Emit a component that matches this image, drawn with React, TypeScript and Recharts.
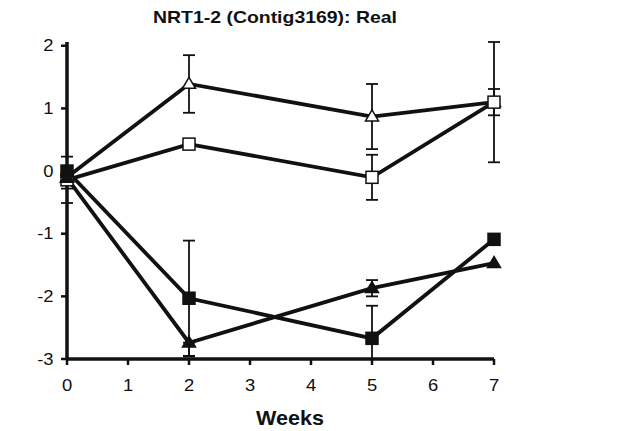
import { LineChart, Line, XAxis, YAxis, ErrorBar } from 'recharts'

const WEEKS = [0, 2, 5, 7]
const X_TICKS = [0, 1, 2, 3, 4, 5, 6, 7]
const Y_TICKS = [-3, -2, -1, 0, 1, 2]

// open triangles
const OPEN_TRI = [-0.1, 1.39, 0.87, 1.1]
const OPEN_TRI_ERR = [0, 0.46, 0.52, 0.21]
// open squares
const OPEN_SQ = [-0.14, 0.43, -0.1, 1.1]
const OPEN_SQ_ERR = [0.37, 0, 0.36, 0.96]
// filled squares
const FILL_SQ = [0, -2.03, -2.67, -1.09]
const FILL_SQ_ERR: (number | number[])[] = [0, 0.92, [0.33, 0.52], 0]
// filled triangles
const FILL_TRI = [-0.11, -2.74, -1.87, -1.47]
const FILL_TRI_ERR: (number | number[])[] = [0.17, [0.22, 0], 0.13, 0]

const data = WEEKS.map((w, i) => ({
  week: w,
  oTri: OPEN_TRI[i],
  oTriErr: OPEN_TRI_ERR[i],
  oSq: OPEN_SQ[i],
  oSqErr: OPEN_SQ_ERR[i],
  fSq: FILL_SQ[i],
  fSqErr: FILL_SQ_ERR[i],
  fTri: FILL_TRI[i],
  fTriErr: FILL_TRI_ERR[i],
}))

const FONT = '"Liberation Sans", Arial, Helvetica, sans-serif'
const INK = '#111'

function marker(shape: 'square' | 'triangle', filled: boolean) {
  return (props: any) => {
    const { cx, cy, index } = props
    if (cx == null || cy == null) return <g key={index} />
    const fill = filled ? INK : '#fff'
    if (shape === 'square') {
      return <rect key={index} x={cx - 6} y={cy - 6} width={12} height={12} fill={fill} stroke={INK} strokeWidth={1.5} />
    }
    const h = 11
    const pts = `${cx},${cy - h * 0.6} ${cx - 6.5},${cy + h * 0.4} ${cx + 6.5},${cy + h * 0.4}`
    return <polygon key={index} points={pts} fill={fill} stroke={INK} strokeWidth={1.5} />
  }
}

// tick text is a little wide in this style, so stretch it horizontally
function XTick(props: any) {
  const { x, y, payload } = props
  return (
    <text transform={`translate(${x},${y + 14.5}) scale(1.15,1)`} textAnchor="middle" fontSize={16} fontFamily={FONT} fill={INK}>
      {payload.value}
    </text>
  )
}

function YTick(props: any) {
  const { x, y, payload } = props
  return (
    <text transform={`translate(${x},${y + 5.5}) scale(1.15,1)`} textAnchor="end" fontSize={16} fontFamily={FONT} fill={INK}>
      {payload.value}
    </text>
  )
}

const line = { stroke: INK, strokeWidth: 3.5 }

export default function App() {
  return (
    <div style={{ position: 'absolute', left: 0, top: 0, width: 640, height: 431, background: '#fff' }}>
      <LineChart width={640} height={431} data={data} margin={{ top: 42, right: 146, bottom: 42, left: 7 }}>
        <XAxis
          dataKey="week"
          type="number"
          domain={[0, 7]}
          ticks={X_TICKS}
          interval={0}
          height={30}
          tick={<XTick />}
          tickSize={6}
          tickMargin={11}
          axisLine={line}
          tickLine={{ stroke: INK, strokeWidth: 2.5 }}
        />
        <YAxis
          type="number"
          domain={[-3, 2]}
          ticks={Y_TICKS}
          interval={0}
          width={60}
          tick={<YTick />}
          tickSize={6}
          tickMargin={7.5}
          axisLine={line}
          tickLine={{ stroke: INK, strokeWidth: 2.5 }}
        />
        <Line dataKey="oTri" stroke={INK} strokeWidth={3.8} dot={marker('triangle', false)} isAnimationActive={false}>
          <ErrorBar dataKey="oTriErr" width={6} stroke={INK} strokeWidth={1.8} />
        </Line>
        <Line dataKey="oSq" stroke={INK} strokeWidth={3.8} dot={marker('square', false)} isAnimationActive={false}>
          <ErrorBar dataKey="oSqErr" width={6} stroke={INK} strokeWidth={1.8} />
        </Line>
        <Line dataKey="fSq" stroke={INK} strokeWidth={3.8} dot={marker('square', true)} isAnimationActive={false}>
          <ErrorBar dataKey="fSqErr" width={6} stroke={INK} strokeWidth={1.8} />
        </Line>
        <Line dataKey="fTri" stroke={INK} strokeWidth={3.8} dot={marker('triangle', true)} isAnimationActive={false}>
          <ErrorBar dataKey="fTriErr" width={6} stroke={INK} strokeWidth={1.8} />
        </Line>
      </LineChart>
      <svg width={640} height={431} style={{ position: 'absolute', left: 0, top: 0, pointerEvents: 'none' }}>
        <text x={275} y={23} textAnchor="middle" fontFamily={FONT} fontWeight="bold" fontSize={17} fill={INK} textLength={244} lengthAdjust="spacingAndGlyphs">
          NRT1-2 (Contig3169): Real
        </text>
        <text x={290} y={425} textAnchor="middle" fontFamily={FONT} fontWeight="bold" fontSize={21} fill={INK} textLength={68} lengthAdjust="spacingAndGlyphs">
          Weeks
        </text>
      </svg>
    </div>
  )
}
